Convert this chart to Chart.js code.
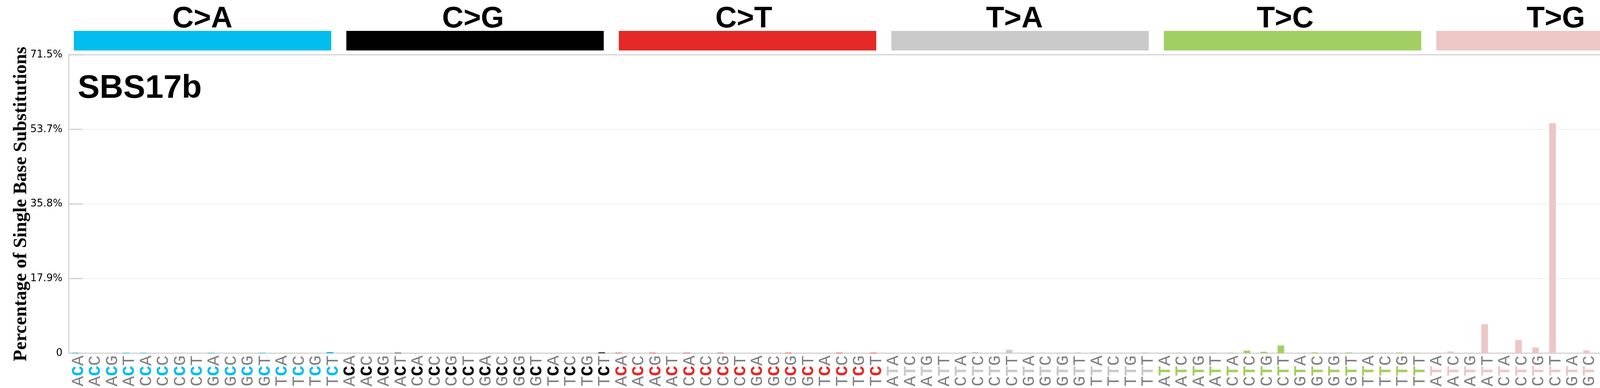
<!DOCTYPE html>
<html>
<head>
<meta charset="utf-8">
<script src="https://cdn.jsdelivr.net/npm/chart.js@4.4.1/dist/chart.umd.min.js"></script>
<style>
  html, body { margin: 0; padding: 0; background: #fff; }
  canvas { display: block; }
</style>
</head>
<body>
<canvas id="sbsChart" width="4393" height="992"></canvas>
<script>
// substitution classes in plot order, with their usual colours
const mutationTypes = ['C>A', 'C>G', 'C>T', 'T>A', 'T>C', 'T>G'];
const typeColors = ['#03BDEF', '#010101', '#E42926', '#CBCACA', '#A2CF63', '#ECC7C5'];
const bases = ['A', 'C', 'G', 'T'];

// percentages, 16 trinucleotide contexts per class
const caValues = [0.1, 0, 0, 0.1, 0.1, 0, 0, 0, 0.1, 0, 0, 0.1, 0, 0, 0, 0.28];
const cgValues = [0, 0, 0, 0.1, 0, 0, 0, 0, 0, 0, 0, 0, 0, 0, 0, 0.19];
const ctValues = [0.1, 0, 0.1, 0, 0.1, 0, 0.1, 0, 0, 0, 0.1, 0, 0, 0.1, 0, 0.1];
const taValues = [0, 0.05, 0, 0.1, 0, 0.28, 0.1, 0.81, 0, 0.1, 0.1, 0.19, 0.19, 0.1, 0, 0.19];
const tcValues = [0, 0.1, 0, 0.1, 0.1, 0.62, 0.34, 1.84, 0, 0.19, 0.1, 0.17, 0.06, 0.06, 0.15, 0.06];
const tgValues = [0.15, 0.42, 0.06, 6.93, 0.15, 3.17, 1.38, 55.1, 0.06, 0.66, 0.16, 11.45, 0, 0.9, 0.45, 12.3];

const yTicks = [0, 17.875, 35.75, 53.625, 71.5];
const yTickLabels = ['0', '17.9%', '35.8%', '53.7%', '71.5%'];
const signatureName = 'SBS17b';
const yTitle = 'Percentage of Single Base Substitutions';

// ACA, ACC ... TCT, ATA ... TTT
const contexts = [];
const barColors = [];
mutationTypes.forEach((t, g) => {
    bases.forEach(b5 => {
        bases.forEach(b3 => {
            contexts.push(b5 + t[0] + b3);
            barColors.push(typeColors[g]);
        });
    });
});
const values = [].concat(caValues, cgValues, ctValues, taValues, tcValues, tgValues);

const frameShift = 5; // frame sits a few px right of the bar bands

const sbsDecor = {
    id: 'sbsDecor',
    beforeDatasetsDraw(chart) {
        const { ctx, chartArea, scales: { y } } = chart;
        const left = chartArea.left + frameShift;
        const right = chartArea.right + frameShift;
        ctx.save();
        // faint horizontal grid
        ctx.strokeStyle = '#ebebeb';
        ctx.lineWidth = 1.5;
        yTicks.forEach(v => {
            const py = y.getPixelForValue(v);
            ctx.beginPath(); ctx.moveTo(left, py); ctx.lineTo(right, py); ctx.stroke();
        });
        // inward tick marks on both sides
        ctx.strokeStyle = '#d0d0d0';
        ctx.lineWidth = 3;
        yTicks.forEach(v => {
            const py = y.getPixelForValue(v);
            ctx.beginPath(); ctx.moveTo(left, py); ctx.lineTo(left + 35, py); ctx.stroke();
            ctx.beginPath(); ctx.moveTo(right - 35, py); ctx.lineTo(right, py); ctx.stroke();
        });
        // frame
        ctx.strokeStyle = '#d3d3d3';
        ctx.strokeRect(left, chartArea.top, right - left, chartArea.bottom - chartArea.top);
        ctx.restore();
    },
    afterDraw(chart) {
        const { ctx, chartArea, scales: { x } } = chart;
        ctx.save();

        // class header bars and names
        mutationTypes.forEach((t, g) => {
            ctx.fillStyle = typeColors[g];
            ctx.fillRect(chartArea.left + 18 + g * 697.6, 79, 659, 50);
            ctx.fillStyle = '#000';
            ctx.font = 'bold 76px "Liberation Sans", Arial, sans-serif';
            ctx.textAlign = 'center';
            ctx.textBaseline = 'alphabetic';
            ctx.fillText(t, chartArea.left + 347 + g * 693, 70);
        });

        // signature name
        ctx.textAlign = 'left';
        ctx.font = 'bold 84px "Liberation Sans", Arial, sans-serif';
        ctx.fillStyle = '#000';
        ctx.fillText(signatureName, chartArea.left + 28, chartArea.top + 110);

        // y axis title
        ctx.save();
        ctx.translate(67, (chartArea.top + chartArea.bottom) / 2);
        ctx.rotate(-Math.PI / 2);
        ctx.textAlign = 'center';
        ctx.font = 'bold 48px "Liberation Serif", "Times New Roman", serif';
        ctx.fillText(yTitle, 0, 0);
        ctx.restore();

        // trinucleotide labels, read bottom to top, middle base coloured
        contexts.forEach((lab, i) => {
            const g = Math.floor(i / 16);
            ctx.save();
            ctx.translate(x.getPixelForValue(i) + 20, 988);
            ctx.rotate(-Math.PI / 2);
            ctx.textAlign = 'left';
            let pos = 0;
            for (let k = 0; k < 3; k++) {
                ctx.font = (k === 1 ? 'bold ' : '') + '44px "Liberation Mono", "Courier New", monospace';
                ctx.fillStyle = k === 1 ? typeColors[g] : '#808080';
                ctx.fillText(lab[k], pos, 0);
                pos += ctx.measureText(lab[k]).width;
            }
            ctx.restore();
        });

        ctx.restore();
    }
};

const ctx = document.getElementById('sbsChart').getContext('2d');
const sbsChart = new Chart(ctx, {
    type: 'bar',
    data: {
        labels: contexts,
        datasets: [{
            label: signatureName,
            data: values,
            backgroundColor: barColors,
            borderWidth: 0,
            barPercentage: 0.39,
            categoryPercentage: 1.0
        }]
    },
    options: {
        responsive: false,
        devicePixelRatio: 1,
        animation: false,
        layout: { padding: { top: 140, right: 49, left: 0, bottom: 0 } },
        plugins: {
            legend: { display: false },
            tooltip: { enabled: false }
        },
        scales: {
            x: {
                grid: { display: false },
                border: { display: false },
                ticks: { display: false },
                afterFit: s => { s.height = 89; }
            },
            y: {
                min: 0,
                max: 71.5,
                grid: { display: false },
                border: { display: false },
                afterBuildTicks: s => { s.ticks = yTicks.map(v => ({ value: v })); },
                ticks: {
                    padding: 3,
                    color: '#000',
                    font: { family: '"DejaVu Sans"', size: 26 },
                    callback: (v, i) => yTickLabels[i]
                },
                afterFit: s => { s.width = 171; }
            }
        }
    },
    plugins: [sbsDecor]
});
</script>
</body>
</html>
